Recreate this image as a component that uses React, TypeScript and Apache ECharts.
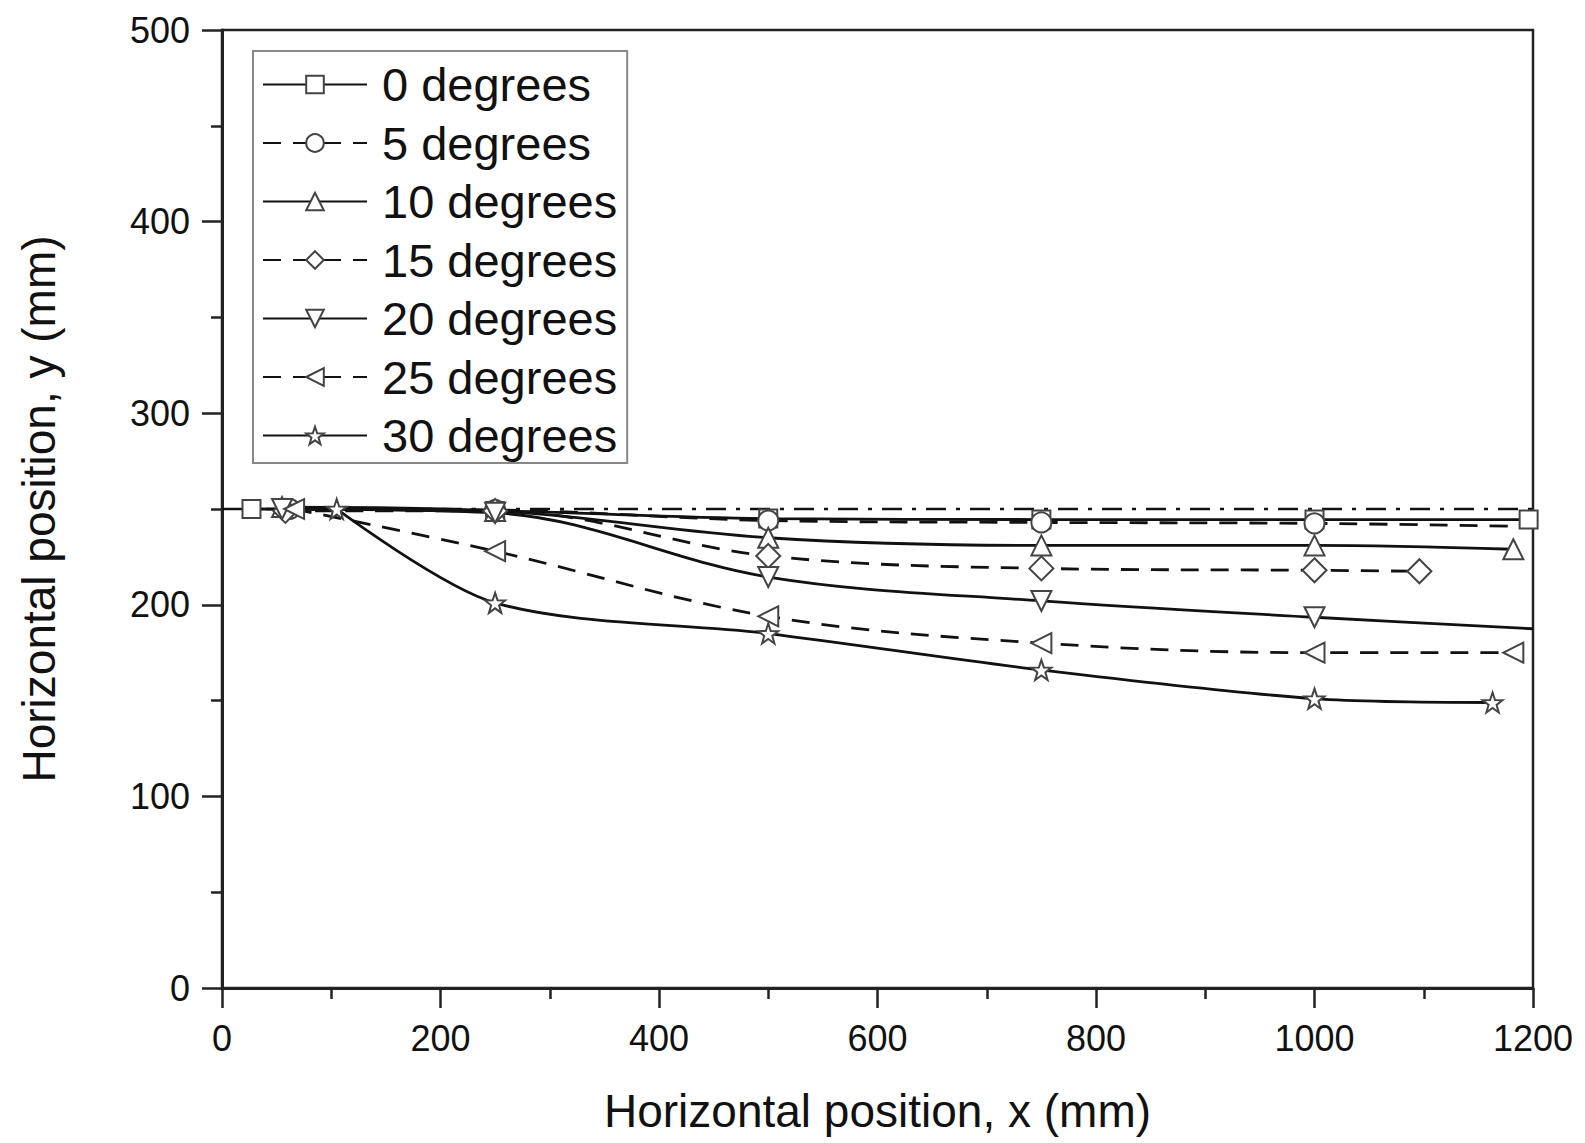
import React, { useEffect, useRef } from "react";
import * as echarts from "echarts";

const seriesNames = ["0 degrees", "5 degrees", "10 degrees", "15 degrees", "20 degrees", "25 degrees", "30 degrees"];

const deg0: number[][] = [[27, 250], [250, 249], [500, 245], [750, 244.5], [1000, 244.5], [1196, 244.5]];
const deg5: number[][] = [[62, 250], [250, 249.5], [500, 244], [750, 243], [1000, 242.5], [1180, 241]];
const deg10: number[][] = [[55, 251], [250, 249], [500, 235], [750, 231], [1000, 231], [1182, 229]];
const deg15: number[][] = [[58, 249], [250, 249], [500, 225.5], [750, 219], [1000, 218], [1096, 217.5]];
const deg20: number[][] = [[55, 250], [250, 248], [500, 214.5], [750, 202], [1000, 193.5], [1200, 187.5]];
const deg25: number[][] = [[66, 250], [250, 228], [500, 194], [750, 180], [1000, 175], [1182, 175]];
const deg30: number[][] = [[105, 250], [250, 201], [500, 185], [750, 166], [1000, 151], [1163, 149]];
const centreLine: number[][] = [[0, 250], [1200, 250]];

const xTicks = { min: 0, max: 1200, interval: 200 };
const yTicks = { min: 0, max: 500, interval: 100 };

const STAR = "path://M50 0 L61.76 33.82 L97.55 34.55 L69.02 56.18 L79.39 90.45 L50 70 L20.61 90.45 L30.98 56.18 L2.45 34.55 L38.24 33.82 Z";

const FONT = "'Liberation Sans', Arial, Helvetica, sans-serif";

export default function App() {
  const ref = useRef<HTMLDivElement>(null);
  useEffect(() => {
    if (!ref.current) return;
    const chart = echarts.init(ref.current, undefined, { renderer: "svg" });
    const dashed = [18, 12];
    const markerStyle = { color: "#ffffff", borderColor: "#444", borderWidth: 2 };
    const hideLast = (data: number[][]) =>
      data.map((p, i) => (i === data.length - 1 ? { value: p, symbol: "none" } : p));
    const mk = (name: string, data: any[], symbol: string, dash: boolean, rotate = 0, size = 20, smooth = 0.35) => ({
      name,
      type: "line",
      data,
      smooth,
      symbol,
      symbolSize: size,
      symbolRotate: rotate,
      showAllSymbol: true,
      lineStyle: { color: "#111", width: 2.8, type: dash ? dashed : "solid" },
      itemStyle: markerStyle,
      emphasis: { disabled: true },
    });
    const series: any[] = [
      {
        name: "centre",
        type: "line",
        data: centreLine,
        symbol: "none",
        lineStyle: { color: "#111", width: 2.5, type: [20, 10, 4, 10] },
        emphasis: { disabled: true },
        z: 1,
      },
      mk(seriesNames[0], deg0, "rect", false, 0, 18),
      mk(seriesNames[1], hideLast(deg5), "circle", true),
      mk(seriesNames[2], deg10, "triangle", false),
      mk(seriesNames[3], deg15, "diamond", true, 0, 24),
      mk(seriesNames[4], hideLast(deg20), "triangle", false, 180),
      mk(seriesNames[5], deg25, "triangle", true, 90),
      mk(seriesNames[6], deg30, STAR, false, 0, 20, 0.3),
    ];

    chart.setOption({
      animation: false,
      backgroundColor: "#ffffff",
      grid: {
        left: 222,
        right: 52,
        top: 30,
        bottom: 155,
        show: true,
        borderColor: "#222",
        borderWidth: 2.5,
        containLabel: false,
      },
      legend: {
        data: seriesNames,
        orient: "vertical",
        left: 253,
        top: 51,
        padding: [10, 10, 4, 9],
        itemWidth: 104,
        itemHeight: 22,
        itemGap: 11.5,
        borderColor: "#888",
        borderWidth: 2,
        backgroundColor: "#fff",
        textStyle: { fontFamily: FONT, fontSize: 47, color: "#111", lineHeight: 45, padding: [0, 0, 0, 10] },
        selectedMode: false,
      },
      xAxis: {
        type: "value",
        ...xTicks,
        name: "Horizontal position, x (mm)",
        nameLocation: "middle",
        nameGap: 100,
        nameTextStyle: { fontFamily: FONT, fontSize: 46, color: "#111" },
        axisLine: { show: true, lineStyle: { color: "#222", width: 3 } },
        axisTick: { show: true, inside: false, length: 20, lineStyle: { color: "#222", width: 2.5 } },
        minorTick: { show: true, splitNumber: 2, length: 11, lineStyle: { color: "#222", width: 2.5 } },
        axisLabel: { fontFamily: FONT, fontSize: 36, color: "#111", margin: 32, formatter: (v: number) => String(v) },
        splitLine: { show: false },
      },
      yAxis: {
        type: "value",
        ...yTicks,
        name: "Horizontal position, y (mm)",
        nameLocation: "middle",
        nameGap: 160,
        nameTextStyle: { fontFamily: FONT, fontSize: 46, color: "#111" },
        axisLine: { show: true, lineStyle: { color: "#222", width: 3 } },
        axisTick: { show: true, inside: false, length: 20, lineStyle: { color: "#222", width: 2.5 } },
        minorTick: { show: true, splitNumber: 2, length: 11, lineStyle: { color: "#222", width: 2.5 } },
        axisLabel: { fontFamily: FONT, fontSize: 36, color: "#111", margin: 32, formatter: (v: number) => String(v) },
        splitLine: { show: false },
      },
      series,
    });
    return () => chart.dispose();
  }, []);
  return <div ref={ref} style={{ position: "absolute", left: 0, top: 0, width: 1585, height: 1143 }} />;
}
